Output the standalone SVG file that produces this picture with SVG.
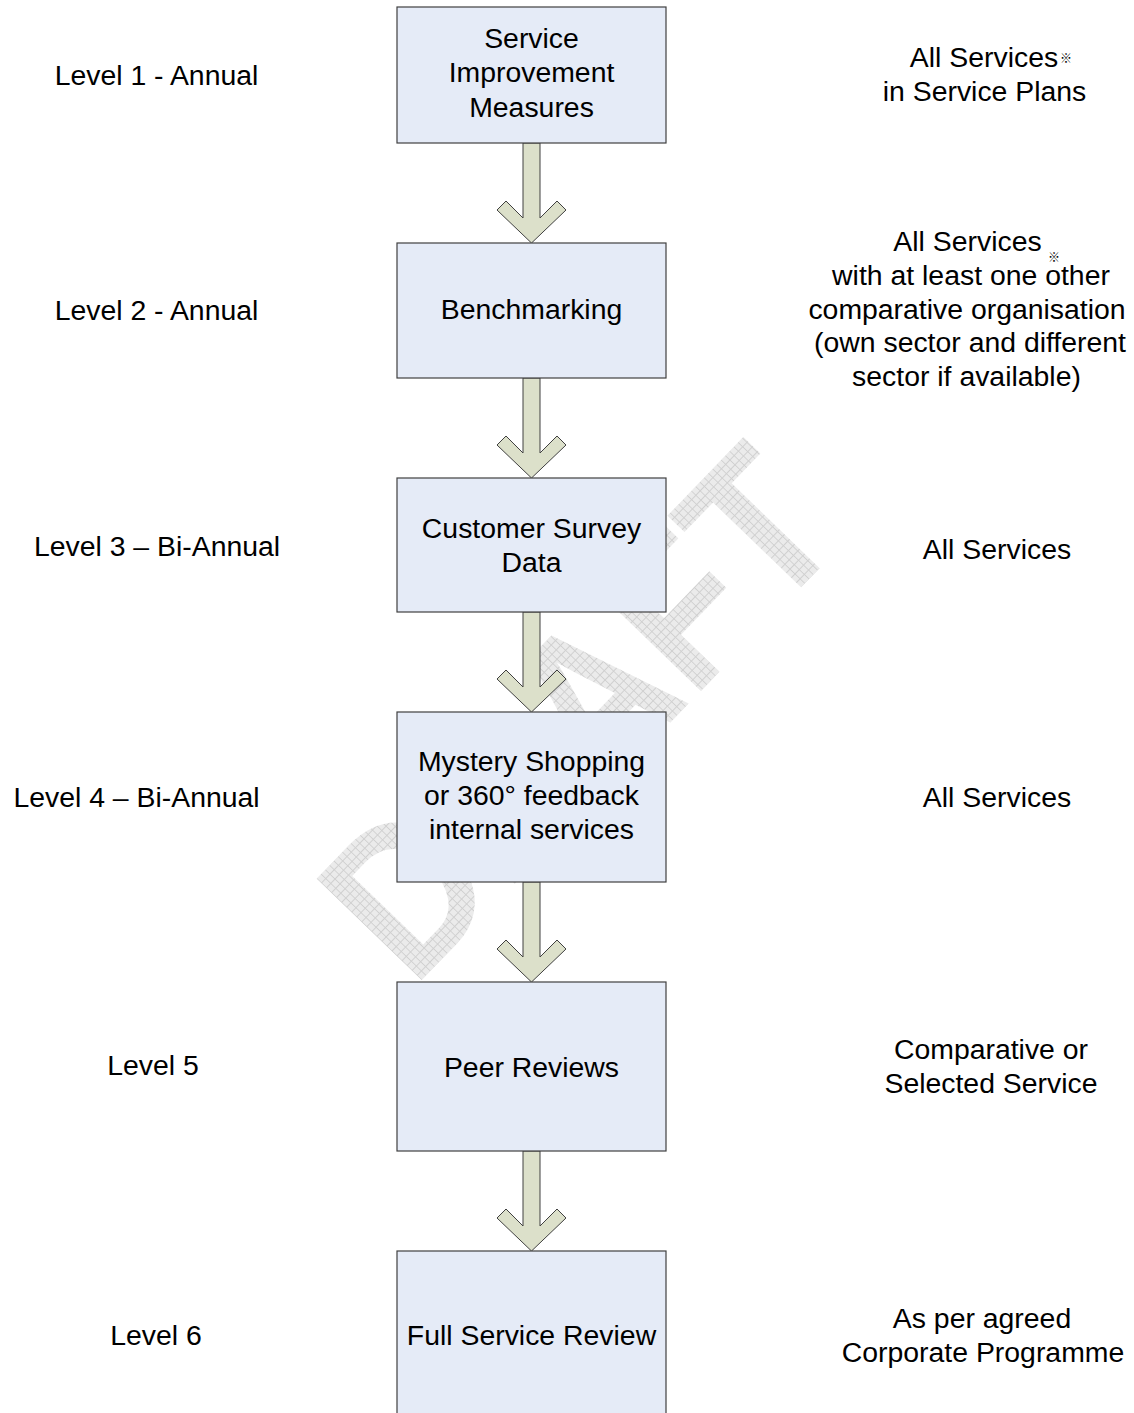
<svg xmlns="http://www.w3.org/2000/svg" width="1134" height="1413" viewBox="0 0 1134 1413">
<style>
text{font-family:"Liberation Sans",Arial,sans-serif;font-size:28.4px;fill:#000;text-anchor:middle}
.box{fill:#E5EBF7;stroke:#404040;stroke-width:1.2}
.arrow{fill:#DCE0CA;stroke:#404040;stroke-width:1}
.sym{font-family:"Noto Sans CJK JP","DejaVu Sans",sans-serif;font-size:12px}
.wm{font-family:"Liberation Sans",Arial,sans-serif;font-weight:bold;font-size:212px;fill:url(#hatch);text-anchor:start}
</style>
<defs>
<pattern id="hatch" width="7" height="7" patternUnits="userSpaceOnUse">
<rect width="7" height="7" fill="#EBEBEB"/>
<path d="M0,0.5H7M0.5,0V7" stroke="#D0D0D0" stroke-width="1"/>
</pattern>
<path id="arr" d="M523,0V75L506,58L497,67L531.5,100L566,67L557,58L540,75V0Z"/>
</defs>
<rect width="1134" height="1413" fill="#fff"/>
<g id="watermark">
<text class="wm" transform="translate(413,989) rotate(-46) scale(0.875,1)">DRAFT</text>
</g>
<g id="connectors" class="arrow">
<use href="#arr" y="143"/>
<use href="#arr" y="378"/>
<use href="#arr" y="612"/>
<use href="#arr" y="882"/>
<use href="#arr" y="1151"/>
</g>
<g id="n1"><rect class="box" x="397" y="7" width="269" height="136"/><text x="531.5" y="47.5">Service</text><text x="531.5" y="82">Improvement</text><text x="531.5" y="116.5">Measures</text></g>
<g id="n2"><rect class="box" x="397" y="243" width="269" height="135"/><text x="531.5" y="319">Benchmarking</text></g>
<g id="n3"><rect class="box" x="397" y="478" width="269" height="134"/><text x="531.5" y="537.5">Customer Survey</text><text x="531.5" y="571.5">Data</text></g>
<g id="n4"><rect class="box" x="397" y="712" width="269" height="170"/><text x="531.5" y="771">Mystery Shopping</text><text x="531.5" y="805">or 360° feedback</text><text x="531.5" y="839">internal services</text></g>
<g id="n5"><rect class="box" x="397" y="982" width="269" height="169"/><text x="531.5" y="1077">Peer Reviews</text></g>
<g id="n6"><rect class="box" x="397" y="1251" width="269" height="170"/><text x="531.5" y="1345">Full Service Review</text></g>
<g id="levels">
<text x="156.5" y="85">Level 1 - Annual</text>
<text x="156.5" y="320">Level 2 - Annual</text>
<text x="157" y="556">Level 3 – Bi-Annual</text>
<text x="136.5" y="807">Level 4 – Bi-Annual</text>
<text x="153" y="1075">Level 5</text>
<text x="156" y="1345">Level 6</text>
</g>
<g id="notes">
<text x="984" y="67">All Services</text><text class="sym" x="1066" y="63">※</text>
<text x="984.5" y="101">in Service Plans</text>
<text x="967.5" y="251">All Services</text><text class="sym" x="1054" y="262">※</text>
<text x="971" y="285">with at least one other</text>
<text x="967" y="318.5">comparative organisation</text>
<text x="970" y="352">(own sector and different</text>
<text x="966.5" y="386">sector if available)</text>
<text x="997" y="559">All Services</text>
<text x="997" y="807">All Services</text>
<text x="991" y="1059">Comparative or</text>
<text x="991" y="1093">Selected Service</text>
<text x="982" y="1328">As per agreed</text>
<text x="983" y="1362">Corporate Programme</text>
</g>
</svg>
